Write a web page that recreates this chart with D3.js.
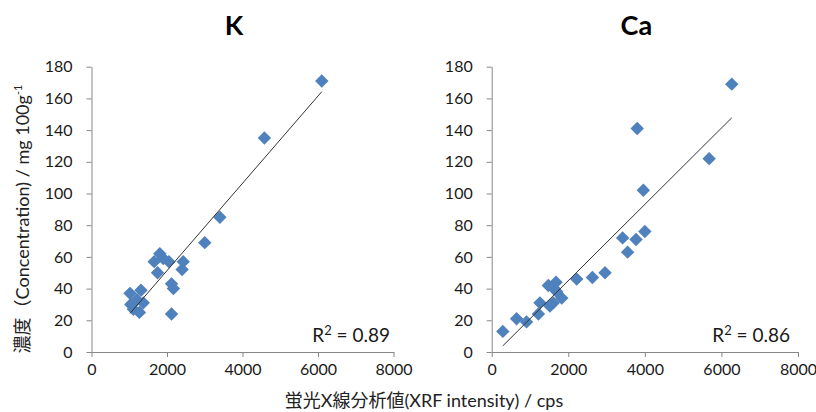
<!DOCTYPE html>
<html><head><meta charset="utf-8">
<script src="https://cdn.jsdelivr.net/npm/d3@7"></script>
<style>
body{margin:0;background:#fff;}
svg text{font-family:Lato,"Noto Sans CJK JP",sans-serif;}
</style></head>
<body><svg id="c" width="816" height="412"></svg>
<script>
// ---- data ----
const kX = [1020,1040,1110,1200,1270,1310,1370,1660,1750,1810,1900,2050,2120,2170,2120,2400,2430,3000,3400,4580,6100];
const kY = [37,30,27,33,25,39,31,57,50,62,59,57,43,40,24,52,57,69,85,135,171];
const caX = [290,650,910,1220,1260,1520,1610,1480,1630,1680,1700,1830,2220,2630,2960,3420,3550,3770,3800,3960,4000,5680,6270];
const caY = [13,21,19,24,31,29,31,42,40,44,38,34,46,47,50,72,63,71,141,102,76,122,169];
const panelTitles = ["K","Ca"];
const r2Labels = ["0.89","0.86"];
const xTicks = [0,2000,4000,6000,8000];
const yTicks = [0,20,40,60,80,100,120,140,160,180];
const yTitle = "濃度（Concentration) / mg 100g";
const xTitle = "蛍光X線分析値(XRF intensity) / cps";

const svg = d3.select("#c");
const panels = [
  {xs:kX, ys:kY, title:panelTitles[0], r2:r2Labels[0], x0:91.5, x1:393.5, r2x:390},
  {xs:caX, ys:caY, title:panelTitles[1], r2:r2Labels[1], x0:491.7, x1:798, r2x:790}
];
const yTop = 66.7, yBot = 352;

panels.forEach(p=>{
  const x = d3.scaleLinear().domain([0,8000]).range([p.x0,p.x1]);
  const y = d3.scaleLinear().domain([0,180]).range([yBot,yTop]);
  const g = svg.append("g");
  const ya = g.append("g").attr("transform",`translate(${p.x0},0)`)
    .call(d3.axisLeft(y).tickValues(yTicks).tickSize(5).tickSizeOuter(0).tickPadding(14));
  const xa = g.append("g").attr("transform",`translate(0,${yBot})`)
    .call(d3.axisBottom(x).tickValues(xTicks).tickSize(5).tickSizeOuter(0).tickPadding(7).tickFormat(d3.format("d")));
  [ya,xa].forEach(a=>{
    a.selectAll("path,line").attr("stroke","#878787");
    a.selectAll("text").attr("fill","#1a1a1a").style("font-size","16px");
  });
  // regression
  const n = p.xs.length;
  const mx = d3.mean(p.xs), my = d3.mean(p.ys);
  let sxy=0,sxx=0;
  for(let i=0;i<n;i++){sxy+=(p.xs[i]-mx)*(p.ys[i]-my);sxx+=(p.xs[i]-mx)**2;}
  const b = sxy/sxx, a0 = my-b*mx;
  const xmin=d3.min(p.xs), xmax=d3.max(p.xs);
  // points
  const sym = d3.symbol().type(d3.symbolSquare).size(90);
  g.selectAll("path.pt").data(d3.range(n)).join("path").attr("class","pt")
    .attr("d",sym)
    .attr("transform",i=>`translate(${x(p.xs[i])},${y(p.ys[i])}) rotate(45)`)
    .attr("fill","#4f81bd");
  g.append("line")
    .attr("x1",x(xmin)).attr("y1",y(a0+b*xmin))
    .attr("x2",x(xmax)).attr("y2",y(a0+b*xmax))
    .attr("stroke","#333").attr("stroke-width",1);
  // R2
  const t = g.append("text").attr("x",p.r2x).attr("y",342).attr("text-anchor","end")
    .style("font-size","19px").attr("fill","#1a1a1a");
  t.append("tspan").text("R");
  t.append("tspan").text("2").attr("dy",-7).style("font-size","13px");
  t.append("tspan").text(" = "+p.r2).attr("dy",7);
  // title
  g.append("text").attr("x",(p.x0+p.x1)/2-8.5).attr("y",35).attr("text-anchor","middle")
    .style("font-size","27px").style("font-weight","bold").attr("fill","#000").text(p.title);
});

// y title
const yt = svg.append("text").attr("transform","translate(29,219) rotate(-90)")
  .attr("text-anchor","middle").style("font-size","18px").attr("fill","#222");
yt.append("tspan").text(yTitle);
yt.append("tspan").text("-1").attr("dy",-7).style("font-size","11px");
// x title
svg.append("text").attr("x",424).attr("y",407).attr("text-anchor","middle")
  .style("font-size","18px").attr("fill","#222").text(xTitle);
</script></body></html>
